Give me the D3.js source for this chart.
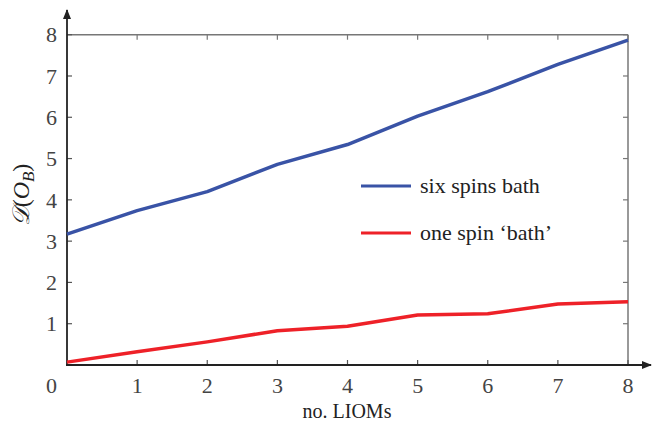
<!DOCTYPE html>
<html>
<head>
<meta charset="utf-8">
<script src="https://cdn.jsdelivr.net/npm/d3@7"></script>
<style>
  body { margin: 0; background: #fff; }
</style>
</head>
<body>
<div id="chart"></div>
<script>
// data
var liomCounts = [0, 1, 2, 3, 4, 5, 6, 7, 8];
var sixSpins = [3.17, 3.74, 4.20, 4.86, 5.34, 6.03, 6.62, 7.28, 7.87];
var oneSpin = [0.07, 0.32, 0.56, 0.83, 0.94, 1.21, 1.24, 1.48, 1.53];
var xTicks = [1, 2, 3, 4, 5, 6, 7, 8];
var yTicks = [1, 2, 3, 4, 5, 6, 7, 8];
var seriesNames = ["six spins bath", "one spin \u2018bath\u2019"];
var seriesColors = ["#3953a6", "#ee2128"];

var width = 652, height = 425;
var serif = "'Liberation Serif'";

var svg = d3.select('#chart').append('svg')
  .attr('width', width)
  .attr('height', height);

var x = d3.scaleLinear().domain([0, 8]).range([67, 628]);
var y = d3.scaleLinear().domain([0, 8]).range([365, 34.7]);

var defs = svg.append('defs');
defs.append('marker')
  .attr('id', 'arrow')
  .attr('viewBox', '0 0 10 10')
  .attr('refX', 9).attr('refY', 5)
  .attr('markerWidth', 10).attr('markerHeight', 10)
  .attr('markerUnits', 'userSpaceOnUse')
  .attr('orient', 'auto')
  .append('path')
  .attr('d', 'M0,1 L10,5 L0,9 Z')
  .attr('fill', '#222');

// frame: top + right in grey
var frame = svg.append('g');
frame.append('line')
  .attr('x1', x(0)).attr('x2', x(8)).attr('y1', y(8)).attr('y2', y(8))
  .attr('stroke', '#777').attr('stroke-width', 1.5);
frame.append('line')
  .attr('x1', x(8)).attr('x2', x(8)).attr('y1', y(8)).attr('y2', y(0))
  .attr('stroke', '#777').attr('stroke-width', 1.5);

// ticks on all four sides, pointing inward
var tickLen = 5;
frame.selectAll('.tb').data(xTicks).enter().append('line')
  .attr('x1', d => x(d)).attr('x2', d => x(d))
  .attr('y1', y(0)).attr('y2', y(0) - tickLen)
  .attr('stroke', '#555').attr('stroke-width', 1.2);
frame.selectAll('.tt').data(xTicks).enter().append('line')
  .attr('x1', d => x(d)).attr('x2', d => x(d))
  .attr('y1', y(8)).attr('y2', y(8) + tickLen)
  .attr('stroke', '#777').attr('stroke-width', 1.2);
frame.selectAll('.tl').data(yTicks).enter().append('line')
  .attr('x1', x(0)).attr('x2', x(0) + tickLen)
  .attr('y1', d => y(d)).attr('y2', d => y(d))
  .attr('stroke', '#555').attr('stroke-width', 1.2);
frame.selectAll('.tr').data(yTicks).enter().append('line')
  .attr('x1', x(8)).attr('x2', x(8) - tickLen)
  .attr('y1', d => y(d)).attr('y2', d => y(d))
  .attr('stroke', '#777').attr('stroke-width', 1.2);

// main axes with arrows
svg.append('line')
  .attr('x1', x(0)).attr('x2', x(0)).attr('y1', y(0) + 1).attr('y2', 10)
  .attr('stroke', '#222').attr('stroke-width', 1.8)
  .attr('marker-end', 'url(#arrow)');
svg.append('line')
  .attr('x1', x(0) - 1).attr('x2', 651).attr('y1', y(0)).attr('y2', y(0))
  .attr('stroke', '#222').attr('stroke-width', 1.8)
  .attr('marker-end', 'url(#arrow)');

// tick labels
svg.selectAll('.yl').data(yTicks).enter().append('text')
  .style('font-family', serif)
  .attr('x', 57).attr('y', d => y(d)).attr('dy', '0.35em')
  .attr('text-anchor', 'end')
  .attr('font-size', 22).attr('fill', '#444')
  .text(d => d);
svg.append('text')
  .style('font-family', serif)
  .attr('x', 57).attr('y', 385).attr('dy', '0.35em')
  .attr('text-anchor', 'end')
  .attr('font-size', 22).attr('fill', '#444')
  .text('0');
svg.selectAll('.xl').data(xTicks).enter().append('text')
  .style('font-family', serif)
  .attr('x', d => x(d)).attr('y', 385).attr('dy', '0.35em')
  .attr('text-anchor', 'middle')
  .attr('font-size', 22).attr('fill', '#444')
  .text(d => d);

// axis titles
svg.append('text')
  .style('font-family', serif)
  .attr('x', 347).attr('y', 411).attr('dy', '0.35em')
  .attr('text-anchor', 'middle')
  .attr('font-size', 20).attr('fill', '#222')
  .text('no. LIOMs');

var yt = svg.append('text')
  .style('font-family', serif)
  .attr('transform', 'translate(29,195) rotate(-90)')
  .attr('text-anchor', 'middle')
  .attr('font-size', 24).attr('fill', '#222');
yt.append('tspan').attr('font-style', 'italic').text('\uD835\uDC9F');
yt.append('tspan').text('(');
yt.append('tspan').attr('font-style', 'italic').text('O');
yt.append('tspan').attr('font-style', 'italic').attr('font-size', 17).attr('dy', 5).text('B');
yt.append('tspan').attr('dy', -5).text(')');

// lines
var line = d3.line()
  .x((d, i) => x(liomCounts[i]))
  .y(d => y(d));

[sixSpins, oneSpin].forEach(function (vals, i) {
  svg.append('path')
    .datum(vals)
    .attr('d', line)
    .attr('fill', 'none')
    .attr('stroke', seriesColors[i])
    .attr('stroke-width', 3.5)
    .attr('stroke-linejoin', 'round');
});

// legend
var legend = svg.append('g').attr('transform', 'translate(361,186)');
seriesNames.forEach(function (name, i) {
  var row = legend.append('g').attr('transform', `translate(0, ${i * 47})`);
  row.append('line')
    .attr('x1', 0).attr('x2', 50).attr('y1', 0).attr('y2', 0)
    .attr('stroke', seriesColors[i]).attr('stroke-width', 3);
  row.append('text')
    .style('font-family', serif)
    .attr('x', 59).attr('y', 0).attr('dy', '0.3em')
    .attr('font-size', 22).attr('fill', '#222')
    .text(name);
});
</script>
</body>
</html>
